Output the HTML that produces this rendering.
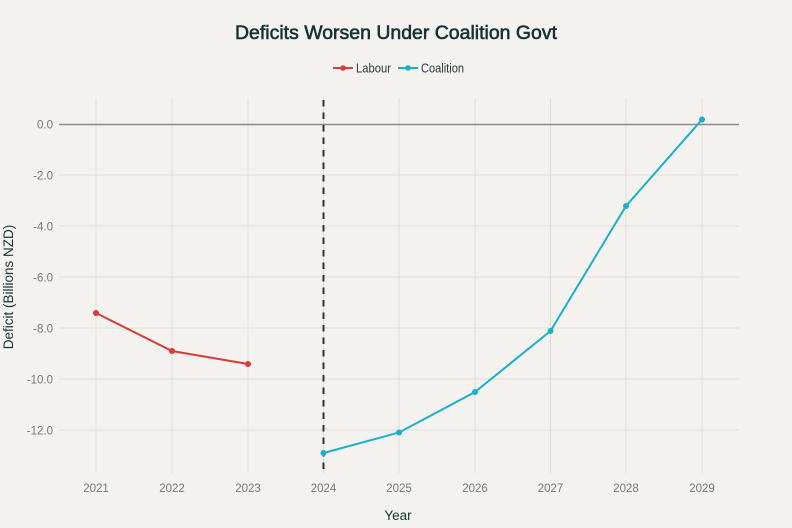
<!DOCTYPE html>
<html>
<head>
<meta charset="utf-8">
<style>
  html, body { margin: 0; padding: 0; background: #f3f2ee; }
  svg { display: block; }
  text { font-family: "Liberation Sans", Arial, sans-serif; }
</style>
</head>
<body>
<svg width="792" height="528" viewBox="0 0 792 528" xmlns="http://www.w3.org/2000/svg">
  <rect width="792" height="528" fill="#f3f2ee"/>

  <!-- Title -->
  <text x="396" y="39" text-anchor="middle" font-size="19.5" font-weight="normal" fill="#173236" stroke="#173236" stroke-width="0.6" textLength="322" lengthAdjust="spacingAndGlyphs">Deficits Worsen Under Coalition Govt</text>

  <!-- Legend -->
  <line x1="333" y1="68" x2="353" y2="68" stroke="#d93b3b" stroke-width="2"/>
  <circle cx="343" cy="68" r="2.8" fill="#d93b3b"/>
  <text x="356" y="72.5" font-size="12.5" fill="#2a3a3d" textLength="35" lengthAdjust="spacingAndGlyphs">Labour</text>
  <line x1="398" y1="68" x2="418" y2="68" stroke="#1ab0c8" stroke-width="2"/>
  <circle cx="408" cy="68" r="2.8" fill="#1ab0c8"/>
  <text x="421" y="72.5" font-size="12.5" fill="#2a3a3d" textLength="43" lengthAdjust="spacingAndGlyphs">Coalition</text>

  <!-- Grid: vertical -->
  <g stroke="#e0ddd5" stroke-width="1">
    <line x1="96" y1="98" x2="96" y2="473"/>
    <line x1="172" y1="98" x2="172" y2="473"/>
    <line x1="248" y1="98" x2="248" y2="473"/>
    <line x1="323.5" y1="98" x2="323.5" y2="473"/>
    <line x1="399" y1="98" x2="399" y2="473"/>
    <line x1="475" y1="98" x2="475" y2="473"/>
    <line x1="550.5" y1="98" x2="550.5" y2="473"/>
    <line x1="626" y1="98" x2="626" y2="473"/>
    <line x1="702" y1="98" x2="702" y2="473"/>
  </g>
  <!-- Grid: horizontal -->
  <g stroke="#e0ddd5" stroke-width="1">
    <line x1="59" y1="175" x2="739" y2="175"/>
    <line x1="59" y1="226" x2="739" y2="226"/>
    <line x1="59" y1="277" x2="739" y2="277"/>
    <line x1="59" y1="328" x2="739" y2="328"/>
    <line x1="59" y1="379" x2="739" y2="379"/>
    <line x1="59" y1="430" x2="739" y2="430"/>
  </g>
  <!-- Zero line -->
  <line x1="59" y1="124.5" x2="739" y2="124.5" stroke="#8a8a8a" stroke-width="1.5"/>

  <!-- Y tick labels -->
  <g font-size="11.5" fill="#767676" text-anchor="end">
    <text x="53" y="128.5">0.0</text>
    <text x="53" y="179.5">-2.0</text>
    <text x="53" y="230.5">-4.0</text>
    <text x="53" y="281.5">-6.0</text>
    <text x="53" y="332.5">-8.0</text>
    <text x="53" y="383.5">-10.0</text>
    <text x="53" y="434.5">-12.0</text>
  </g>

  <!-- X tick labels -->
  <g font-size="11.5" fill="#767676" text-anchor="middle">
    <text x="96" y="492">2021</text>
    <text x="172" y="492">2022</text>
    <text x="248" y="492">2023</text>
    <text x="323.5" y="492">2024</text>
    <text x="399" y="492">2025</text>
    <text x="475" y="492">2026</text>
    <text x="550.5" y="492">2027</text>
    <text x="626" y="492">2028</text>
    <text x="702" y="492">2029</text>
  </g>

  <!-- Axis titles -->
  <text x="398" y="520" text-anchor="middle" font-size="13.5" fill="#173236">Year</text>
  <text transform="translate(13,287) rotate(-90)" text-anchor="middle" font-size="13.5" fill="#173236">Deficit (Billions NZD)</text>

  <!-- Dashed divider -->
  <line x1="323.5" y1="100" x2="323.5" y2="473" stroke="#333333" stroke-width="2" stroke-dasharray="6.5,6"/>

  <!-- Labour series -->
  <polyline points="96,313 172,351 248,364" fill="none" stroke="#d93b3b" stroke-width="2"/>
  <g fill="#d93b3b">
    <circle cx="96" cy="313" r="3"/>
    <circle cx="172" cy="351" r="3"/>
    <circle cx="248" cy="364" r="3"/>
  </g>

  <!-- Coalition series -->
  <polyline points="323.5,453 399,432.5 475,392 550.5,331 626,206 702,119.5" fill="none" stroke="#1ab0c8" stroke-width="2"/>
  <g fill="#1ab0c8">
    <circle cx="323.5" cy="453" r="3"/>
    <circle cx="399" cy="432.5" r="3"/>
    <circle cx="475" cy="392" r="3"/>
    <circle cx="550.5" cy="331" r="3"/>
    <circle cx="626" cy="206" r="3"/>
    <circle cx="702" cy="119.5" r="3"/>
  </g>
</svg>
</body>
</html>
